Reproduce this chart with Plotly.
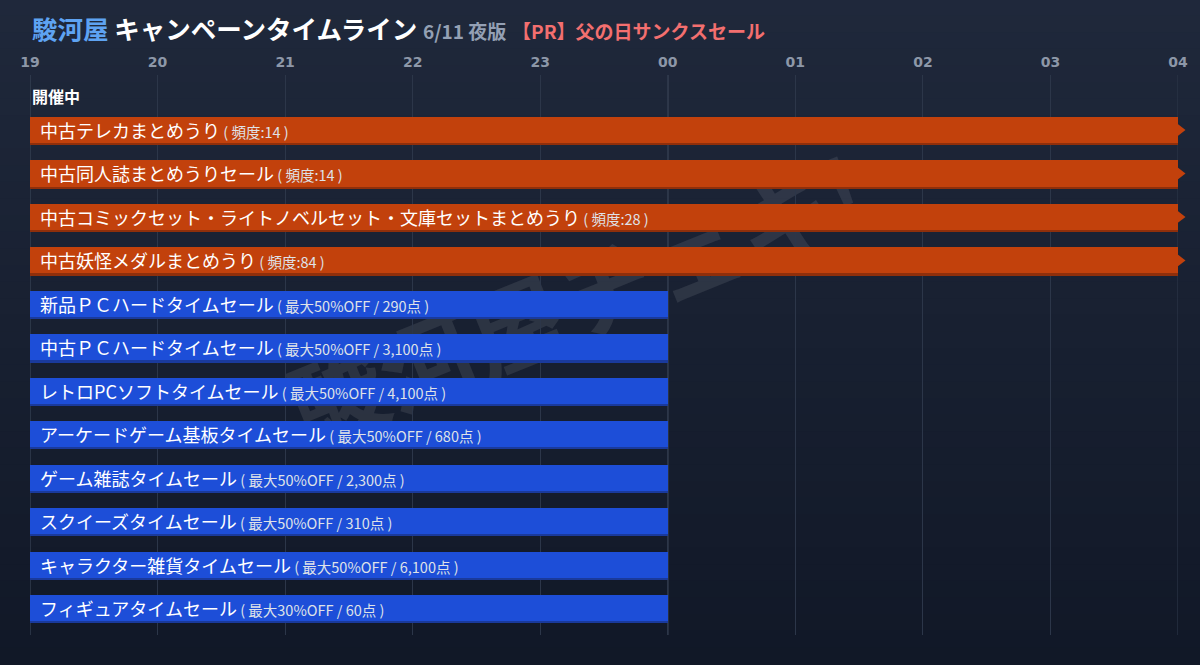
import plotly.graph_objects as go

# data
campaigns = [
    "中古テレカまとめうり",
    "中古同人誌まとめうりセール",
    "中古コミックセット・ライトノベルセット・文庫セットまとめうり",
    "中古妖怪メダルまとめうり",
    "新品ＰＣハードタイムセール",
    "中古ＰＣハードタイムセール",
    "レトロPCソフトタイムセール",
    "アーケードゲーム基板タイムセール",
    "ゲーム雑誌タイムセール",
    "スクイーズタイムセール",
    "キャラクター雑貨タイムセール",
    "フィギュアタイムセール",
]
details = [
    "頻度:14",
    "頻度:14",
    "頻度:28",
    "頻度:84",
    "最大50%OFF / 290点",
    "最大50%OFF / 3,100点",
    "最大50%OFF / 4,100点",
    "最大50%OFF / 680点",
    "最大50%OFF / 2,300点",
    "最大50%OFF / 310点",
    "最大50%OFF / 6,100点",
    "最大30%OFF / 60点",
]
start_hours = [19, 19, 19, 19, 19, 19, 19, 19, 19, 19, 19, 19]
end_hours = [28, 28, 28, 28, 24, 24, 24, 24, 24, 24, 24, 24]
continues = [True, True, True, True, False, False, False, False, False, False, False, False]
tick_vals = [19, 20, 21, 22, 23, 24, 25, 26, 27, 28]
tick_text = ["19", "20", "21", "22", "23", "00", "01", "02", "03", "04"]

JP = "Noto Sans CJK JP"
ORANGE, ORANGE_DARK = "#c2410c", "#8f2f0b"
BLUE, BLUE_DARK = "#1d4ed8", "#1a3a9c"
GRID = "#2c3649"

rows = list(range(len(campaigns)))
durations = [e - s for s, e in zip(start_hours, end_hours)]
colors = [ORANGE if c else BLUE for c in continues]
shadow_colors = [ORANGE_DARK if c else BLUE_DARK for c in continues]

fig = go.Figure()

# darker strip under each bar
fig.add_trace(go.Bar(
    y=rows, x=durations, base=start_hours, orientation="h",
    width=0.6, offset=-0.25, marker=dict(color=shadow_colors, line_width=0),
    hoverinfo="skip", showlegend=False,
))
fig.add_trace(go.Bar(
    y=rows, x=durations, base=start_hours, orientation="h",
    width=0.6, offset=-0.3, marker=dict(color=colors, line_width=0),
    hovertext=campaigns, hoverinfo="text", showlegend=False,
))

# arrow heads for campaigns that run past the window
arrow_rows = [r for r, c in zip(rows, continues) if c]
arrow_x = [end_hours[r] for r in arrow_rows]
fig.add_trace(go.Scatter(
    x=arrow_x, y=arrow_rows, mode="markers", cliponaxis=False,
    marker=dict(symbol="triangle-right", size=15, color=ORANGE, line_width=0),
    hoverinfo="skip", showlegend=False,
))

for r in rows:
    fig.add_annotation(
        x=start_hours[r], y=r, xref="x", yref="y",
        xanchor="left", yanchor="middle", xshift=8, showarrow=False,
        text=(f"{campaigns[r]}<span style='font-size:14.5px;color:#dfe2e8'>"
              f" ( {details[r]} )</span>"),
        font=dict(family=JP, size=18, color="#ffffff"),
    )

# background gradient bands
n_bands = 40
top_rgb, bot_rgb = (31, 40, 59), (17, 24, 39)
y_lo, y_hi = -30 / 560, 1 + 75 / 560
for i in range(n_bands):
    t = i / (n_bands - 1)
    c = tuple(round(top_rgb[k] + (bot_rgb[k] - top_rgb[k]) * t) for k in range(3))
    y1 = y_hi - (y_hi - y_lo) * i / n_bands
    y0 = y_hi - (y_hi - y_lo) * (i + 1) / n_bands
    fig.add_shape(type="rect", xref="paper", yref="paper",
                  x0=-0.05, x1=1.05, y0=y0 - 0.002, y1=y1 + 0.002,
                  fillcolor="rgb(%d,%d,%d)" % c, line_width=0, layer="below")

# edge lines (plotly skips gridlines on the range ends) and the midnight line
for hx, col in [(tick_vals[0], "#3a4558"), (tick_vals[-1], GRID), (24, "#4a5568")]:
    fig.add_shape(type="line", xref="x", yref="paper", x0=hx, x1=hx, y0=0, y1=1,
                  line=dict(color=col, width=1.2), layer="below")

# watermark
fig.add_shape(type="rect", xref="paper", yref="paper",
              x0=0.2, x1=0.76, y0=0.33, y1=0.83, line_width=0,
              fillcolor="rgba(0,0,0,0)", layer="below",
              label=dict(text="駿河屋チェキ!", textangle=-22,
                         textposition="middle center",
                         font=dict(family=JP, size=96, weight="bold",
                                   color="rgba(255,255,255,0.09)")))

fig.add_annotation(
    xref="paper", yref="paper", x=0, y=1 + (75 - 27) / 560,
    xanchor="left", yanchor="middle", showarrow=False,
    text=("<b><span style='color:#5ea3f2'>駿河屋</span> キャンペーンタイムライン</b>"
          " <span style='font-size:19px;color:#94a0b4'><b>6/11 夜版</b></span>"
          " <span style='font-size:19px;color:#f36f6f'><b>【PR】父の日サンクスセール</b></span>"),
    font=dict(family=JP, size=25.5, color="#ffffff"),
)
fig.add_annotation(
    xref="paper", yref="paper", x=0, y=1 - (96 - 75) / 560,
    xanchor="left", yanchor="middle", showarrow=False,
    text="<b>開催中</b>", font=dict(family=JP, size=16, color="#ffffff"),
)

fig.update_layout(
    width=1200, height=665,
    margin=dict(l=30, r=22, t=75, b=30),
    paper_bgcolor="#111827", plot_bgcolor="rgba(0,0,0,0)",
    barmode="overlay", bargap=0,
    xaxis=dict(
        range=[19, 28], side="top", tickvals=tick_vals, ticktext=tick_text,
        showgrid=True, gridcolor=GRID, gridwidth=1, zeroline=False,
        showline=False, ticks="", ticklabelstandoff=4,
        tickfont=dict(family="DejaVu Sans", size=14, color="#8d97a8", weight="bold"),
        fixedrange=True,
    ),
    yaxis=dict(
        range=[len(rows) - 1 + 0.62, -1.266], showgrid=False, zeroline=False,
        showticklabels=False, fixedrange=True,
    ),
    hoverlabel=dict(font_family=JP),
)

fig.write_html("out.html", config={"displayModeBar": False},
               post_script="document.body.style.margin='0';")
